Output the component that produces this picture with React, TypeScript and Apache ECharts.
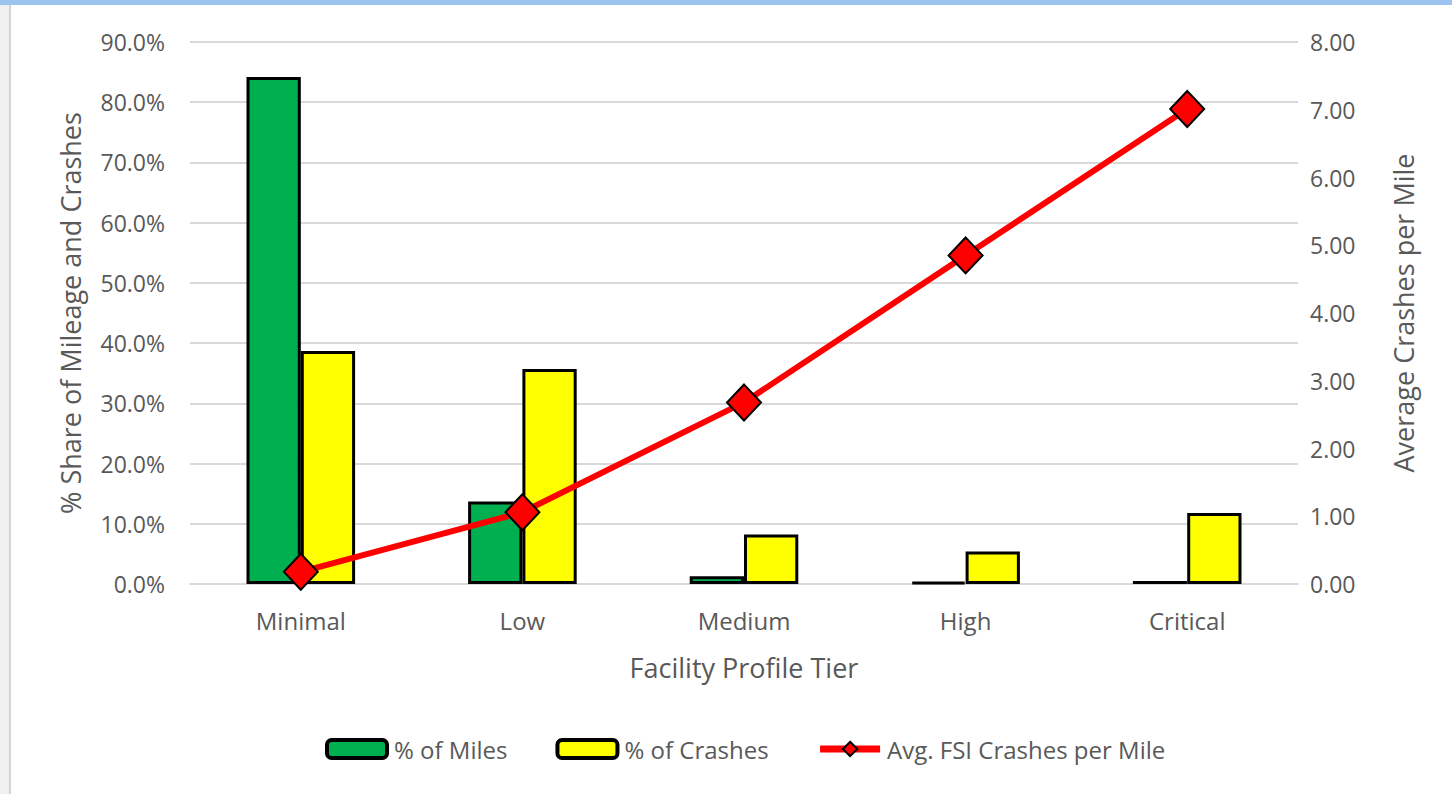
import React, { useEffect, useRef } from "react";
import * as echarts from "echarts";

const categories = ["Minimal", "Low", "Medium", "High", "Critical"];
const pctMiles = [84.2, 13.7, 1.3, 0.3, 0.5];
const pctCrashes = [38.7, 35.7, 8.2, 5.4, 11.8];
const avgFsi = [0.18, 1.06, 2.68, 4.85, 7.01];
const leftTicks = { min: 0, max: 90, interval: 10 };
const rightTicks = { min: 0, max: 8, interval: 1 };

const FONT = "'Open Sans', 'Noto Sans', sans-serif";
const GRAY = "#595959";

export default function App() {
  const ref = useRef<HTMLDivElement>(null);
  useEffect(() => {
    if (!ref.current) return;
    const chart = echarts.init(ref.current, null, { renderer: "svg" });
    chart.setOption({
      animation: false,
      backgroundColor: "#ffffff",
      textStyle: { fontFamily: FONT },
      graphic: [
        { type: "rect", shape: { x: 0, y: 0, width: 1452, height: 5 }, style: { fill: "#9dc3f0" }, silent: true },
        { type: "rect", shape: { x: 0, y: 5, width: 10, height: 789 }, style: { fill: "#f0f0f0" }, silent: true },
        { type: "line", shape: { x1: 10, y1: 5, x2: 10, y2: 794 }, style: { stroke: "#d4d4d4", lineWidth: 2 }, silent: true },
      ],
      grid: { left: 190, right: 154, top: 42, bottom: 210 },
      legend: {
        bottom: 28,
        left: 320,
        itemGap: 48,
        itemWidth: 60,
        itemHeight: 18,
        textStyle: { fontSize: 24, color: GRAY, fontFamily: FONT, padding: [0, 0, 0, 2] },
        data: [
          { name: "% of Miles", itemStyle: { borderWidth: 4 } },
          { name: "% of Crashes", itemStyle: { borderWidth: 4 } },
          { name: "Avg. FSI Crashes per Mile", lineStyle: { width: 7 } },
        ],
      },
      xAxis: {
        type: "category",
        data: categories,
        name: "Facility Profile Tier",
        nameLocation: "middle",
        nameGap: 70,
        nameTextStyle: { fontSize: 27, color: GRAY, fontFamily: FONT },
        axisLine: { lineStyle: { color: "#d9d9d9", width: 2 } },
        axisTick: { show: false },
        axisLabel: { fontSize: 24, color: GRAY, margin: 24, fontFamily: FONT },
      },
      yAxis: [
        {
          type: "value",
          min: leftTicks.min,
          max: leftTicks.max,
          interval: leftTicks.interval,
          name: "% Share of Mileage and Crashes",
          nameLocation: "middle",
          nameGap: 106,
          nameTextStyle: { fontSize: 27, color: GRAY, fontFamily: FONT },
          axisLabel: { fontSize: 23, color: GRAY, margin: 25, formatter: (v: number) => v.toFixed(1) + "%", fontFamily: FONT },
          splitLine: { lineStyle: { color: "#d9d9d9", width: 2 } },
          axisLine: { show: false },
          axisTick: { show: false },
        },
        {
          type: "value",
          min: rightTicks.min,
          max: rightTicks.max,
          interval: rightTicks.interval,
          name: "Average Crashes per Mile",
          nameLocation: "middle",
          nameGap: 92,
          nameRotate: 90,
          nameTextStyle: { fontSize: 27, color: GRAY, fontFamily: FONT },
          axisLabel: { fontSize: 23, color: GRAY, margin: 12, formatter: (v: number) => v.toFixed(2), fontFamily: FONT },
          splitLine: { show: false },
          axisLine: { show: false },
          axisTick: { show: false },
        },
      ],
      series: [
        {
          name: "% of Miles",
          type: "bar",
          data: pctMiles,
          barGap: "0%",
          barCategoryGap: "51%",
          itemStyle: { color: "#00b050", borderColor: "#000000", borderWidth: 3 },
        },
        {
          name: "% of Crashes",
          type: "bar",
          data: pctCrashes,
          barGap: "0%",
          barCategoryGap: "51%",
          itemStyle: { color: "#ffff00", borderColor: "#000000", borderWidth: 3 },
        },
        {
          name: "Avg. FSI Crashes per Mile",
          type: "line",
          yAxisIndex: 1,
          data: avgFsi,
          symbol: "diamond",
          symbolSize: [34, 36],
          lineStyle: { color: "#ff0000", width: 6 },
          itemStyle: { color: "#ff0000", borderColor: "#000000", borderWidth: 2 },
          z: 5,
        },
      ],
    });
    return () => chart.dispose();
  }, []);
  return <div ref={ref} style={{ position: "fixed", left: 0, top: 0, width: 1452, height: 794 }} />;
}
